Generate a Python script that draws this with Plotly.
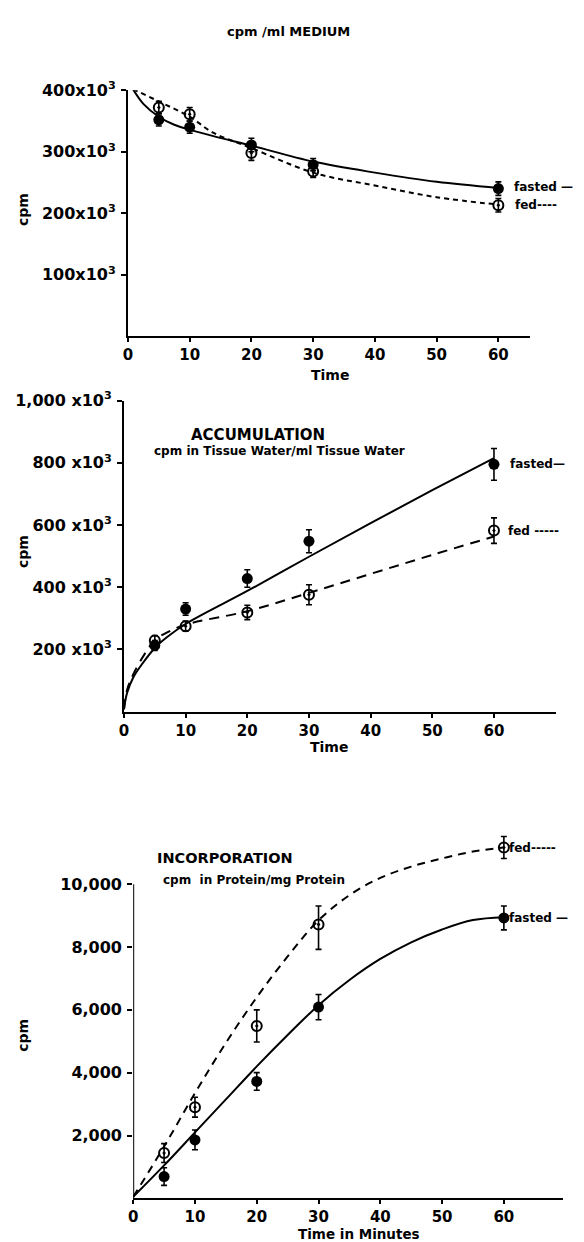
import plotly.graph_objects as go

# ---------------- data ----------------
t_pts = [5, 10, 20, 30, 60]

# Panel 1: cpm/ml medium (x 10^3)
med_fasted = [352, 340, 311, 279, 240]
med_fasted_err = [10, 10, 11, 10, 11]
med_fed = [372, 361, 298, 268, 213]
med_fed_err = [10, 11, 12, 10, 11]
med_fasted_curve_t = [0.8, 2.5, 5, 7.5, 10, 14, 20, 30, 40, 50, 60]
med_fasted_curve = [402, 378, 357, 344, 336, 325, 310, 284, 266, 251, 241]
med_fed_curve_t = [0.8, 5.8, 10, 13.8, 20, 30, 40, 50, 60]
med_fed_curve = [402, 378, 357, 331, 306, 266, 245, 226, 214]
med_ticks = [100, 200, 300, 400]
med_ticktext = ["100x10<sup>3</sup>", "200x10<sup>3</sup>", "300x10<sup>3</sup>", "400x10<sup>3</sup>"]

# Panel 2: accumulation (x 10^3)
acc_fasted = [213, 330, 428, 548, 795]
acc_fasted_err = [16, 20, 28, 37, 51]
acc_fed = [229, 275, 319, 376, 582]
acc_fed_err = [16, 16, 23, 32, 41]
acc_fasted_curve_t = [0, 0.5, 1.5, 3, 5, 7, 10, 20, 30, 40, 50, 60]
acc_fasted_curve = [8, 60, 110, 155, 205, 240, 282, 388, 498, 606, 712, 815]
acc_fed_curve_t = [0, 0.5, 1.5, 3.5, 5, 7, 10, 20, 30, 40, 50, 60]
acc_fed_curve = [8, 70, 120, 190, 230, 255, 280, 323, 382, 443, 504, 563]
acc_ticks = [200, 400, 600, 800, 1000]
acc_ticktext = ["200 x10<sup>3</sup>", "400 x10<sup>3</sup>", "600 x10<sup>3</sup>",
                "800 x10<sup>3</sup>", "1,000 x10<sup>3</sup>"]

# Panel 3: incorporation
inc_fasted = [694, 1861, 3722, 6088, 8927]
inc_fasted_err = [280, 315, 280, 400, 380]
inc_fed = [1442, 2902, 5489, 8716, 11167]
inc_fed_err_plus = [300, 315, 510, 590, 350]
inc_fed_err_minus = [300, 315, 510, 790, 350]
inc_fasted_curve_t = [0, 5, 10, 15, 20, 25, 30, 35, 40, 45, 50, 55, 60]
inc_fasted_curve = [50, 1050, 2100, 3150, 4200, 5200, 6150, 6950, 7620, 8150, 8560, 8860, 8950]
inc_fed_curve_t = [0, 5, 10, 15, 20, 25, 30, 35, 40, 45, 50, 55, 60]
inc_fed_curve = [50, 1650, 3350, 4950, 6400, 7700, 8850, 9650, 10200, 10560, 10820, 11040, 11170]
inc_ticks = [2000, 4000, 6000, 8000, 10000]
inc_ticktext = ["2,000", "4,000", "6,000", "8,000", "10,000"]

x_ticks = [0, 10, 20, 30, 40, 50, 60]
x_ticktext = ["0", "10", "20", "30", "40", "50", "60"]

# ---------------- layout helpers ----------------
W, H = 584, 1242
FONT = "DejaVu Sans"


def px(x):
    return x / W


def py(y):
    return 1 - y / H


ytickfont = dict(family=FONT, size=16, color="black", weight="bold")
xtickfont = dict(family=FONT, size=15, color="black", weight="bold")


def xax(dom, rng, anchor):
    return dict(domain=dom, range=rng, anchor=anchor, showline=True, linecolor="black",
                linewidth=2, ticks="outside", ticklen=4, tickwidth=1.5, tickcolor="black",
                tickvals=x_ticks, ticktext=x_ticktext, tickfont=xtickfont,
                ticklabelstandoff=0,
                showgrid=False, zeroline=False, fixedrange=True)


def yax(dom, rng, anchor, tv, tt, showline=True):
    return dict(domain=dom, range=rng, anchor=anchor, showline=showline, linecolor="black",
                linewidth=2, ticks="outside", ticklen=5, tickwidth=1.5, tickcolor="black",
                tickvals=tv, ticktext=tt, tickfont=ytickfont, ticklabelstandoff=2,
                showgrid=False, zeroline=False, fixedrange=True)


fig = go.Figure()


def add_panel(xa, ya, cf_t, cf, cd_t, cd, dash, f_vals, f_err, d_vals, d_err_p, d_err_m):
    fig.add_trace(go.Scatter(x=cf_t, y=cf, mode="lines", xaxis=xa, yaxis=ya,
                             line=dict(color="black", width=2, shape="spline", smoothing=1.0)))
    fig.add_trace(go.Scatter(x=cd_t, y=cd, mode="lines", xaxis=xa, yaxis=ya,
                             line=dict(color="black", width=2, shape="spline", smoothing=1.0,
                                       dash=dash)))
    fig.add_trace(go.Scatter(x=t_pts, y=f_vals, mode="markers", xaxis=xa, yaxis=ya,
                             cliponaxis=False,
                             marker=dict(symbol="circle", size=11, color="black"),
                             error_y=dict(type="data", array=f_err, color="black",
                                          thickness=1.6, width=3)))
    fig.add_trace(go.Scatter(x=t_pts, y=d_vals, mode="markers", xaxis=xa, yaxis=ya,
                             cliponaxis=False,
                             marker=dict(symbol="circle-open-dot", size=10, color="black",
                                         line=dict(width=2, color="black")),
                             error_y=dict(type="data", symmetric=False, array=d_err_p,
                                          arrayminus=d_err_m, color="black",
                                          thickness=1.6, width=3)))


add_panel("x", "y", med_fasted_curve_t, med_fasted_curve, med_fed_curve_t, med_fed_curve,
          "5px,4px", med_fasted, med_fasted_err, med_fed, med_fed_err, med_fed_err)
add_panel("x2", "y2", acc_fasted_curve_t, acc_fasted_curve, acc_fed_curve_t, acc_fed_curve,
          "10px,7px", acc_fasted, acc_fasted_err, acc_fed, acc_fed_err, acc_fed_err)
add_panel("x3", "y3", inc_fasted_curve_t, inc_fasted_curve, inc_fed_curve_t, inc_fed_curve,
          "8px,6px", inc_fasted, inc_fasted_err, inc_fed, inc_fed_err_plus, inc_fed_err_minus)

fig.update_layout(
    width=W, height=H, margin=dict(l=0, r=0, t=0, b=0),
    paper_bgcolor="white", plot_bgcolor="white", showlegend=False,
    xaxis=xax([px(124), px(530)], [0, 65.2], "y"),
    yaxis=yax([py(328), py(80)], [0, 400], "x", med_ticks, med_ticktext),
    xaxis2=xax([px(120), px(555.4)], [0, 70], "y2"),
    yaxis2=yax([py(707), py(393)], [0, 1000], "x2", acc_ticks, acc_ticktext),
    xaxis3=xax([px(129.3), px(563)], [0, 69.6], "y3"),
    yaxis3=yax([py(1198), py(817.6)], [0, 12000], "x3", inc_ticks, inc_ticktext,
               showline=False),
)

# y-axis line for panel 3 ends at the top tick
fig.add_shape(type="line", xref="x3", yref="y3", x0=0, x1=0, y0=0, y1=max(inc_ticks),
              line=dict(color="black", width=2))


def ann(text, x, y, size, xanchor="center", angle=0):
    fig.add_annotation(text=text, x=px(x), y=py(y), xref="paper", yref="paper",
                       xanchor=xanchor, yanchor="middle", showarrow=False, textangle=angle,
                       borderpad=0,
                       font=dict(family=FONT, size=size, color="black", weight="bold"))


# titles
ann("cpm /ml MEDIUM", 286, 21, 13)
ann("ACCUMULATION", 255, 428, 15)
ann("cpm in Tissue Water/ml Tissue Water", 277, 444, 12)
ann("INCORPORATION", 222, 855, 14.5)
ann("cpm  in Protein/mg Protein", 251, 877, 12)

# axis titles
ann("cpm", 18, 200, 14, angle=-90)
ann("cpm", 18, 545, 14, angle=-90)
ann("cpm", 18, 1033, 14, angle=-90)
ann("Time", 328, 367, 14)
ann("Time", 327, 743, 14)
ann("Time in Minutes", 357, 1234, 13.5)

# series labels
ann("fasted —", 512, 178, 12, xanchor="left")
ann("fed----", 513, 196, 12, xanchor="left")
ann("fasted—", 508, 457, 12, xanchor="left")
ann("fed -----", 506, 525, 12, xanchor="left")
ann("fed-----", 507, 844, 12, xanchor="left")
ann("fasted —", 507, 915, 12, xanchor="left")

fig.write_html("out.html", config={"displayModeBar": False},
               post_script="document.body.style.margin='0';document.body.style.overflow='hidden';")
